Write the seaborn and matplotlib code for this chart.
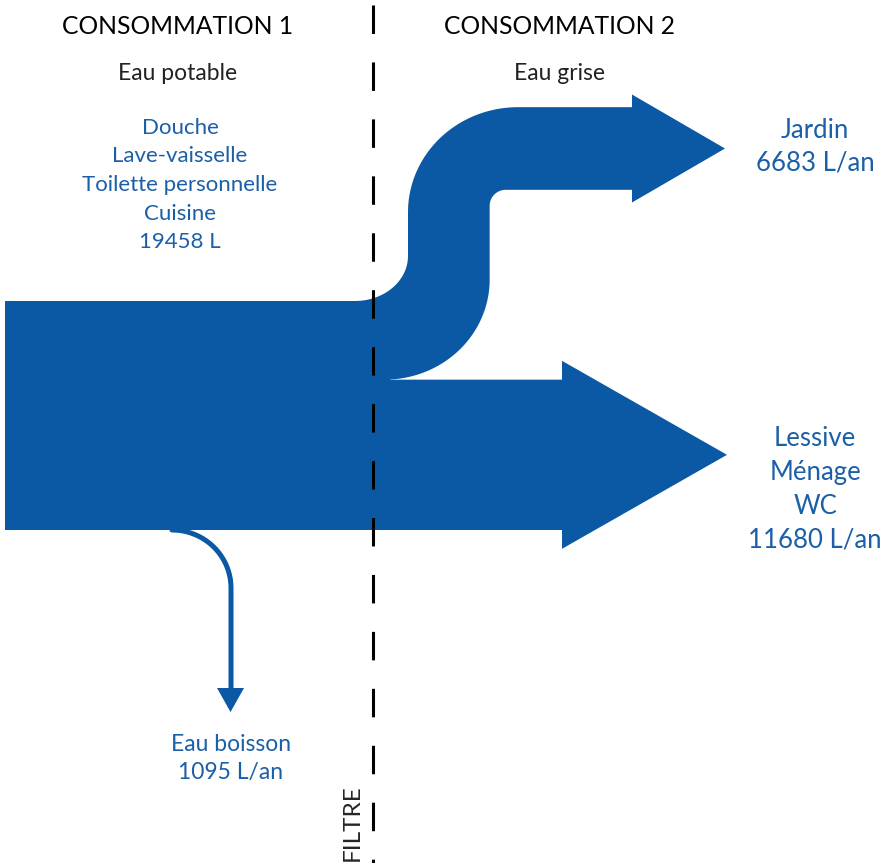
import numpy as np
import matplotlib.pyplot as plt
import seaborn as sns

# volumes d'eau (L/an)
total_potable = 19458
flow_names = ['Jardin', 'Lessive\nMénage\nWC', 'Eau boisson']
flow_values = [6683, 11680, 1095]
usages_potable = ['Douche', 'Lave-vaisselle', 'Toilette personnelle', 'Cuisine']
stage_titles = ['CONSOMMATION 1', 'CONSOMMATION 2']
stage_subtitles = ['Eau potable', 'Eau grise']

blue = '#0b58a4'
text_blue = '#1b5fa8'

sns.set_theme(style='white')
plt.rcParams['font.family'] = ['Lato', 'DejaVu Sans']
plt.rcParams['lines.scale_dashes'] = False

fig = plt.figure(figsize=(8.83, 8.63), dpi=100)
ax = fig.add_axes([0, 0, 1, 1])
ax.set_xlim(0, 883)
ax.set_ylim(863, 0)
ax.axis('off')


def arc(cx, cy, rx, ry, a0, a1, n=50):
    t = np.radians(np.linspace(a0, a1, n))
    return np.column_stack([cx + rx * np.cos(t), cy + ry * np.sin(t)])


px = 229 / total_potable  # pixels par litre
top = 301
w_jardin = flow_values[0] * px
y_split = top + w_jardin
bottom = top + total_potable * px

# bloc eau potable
ax.fill([5, 390, 390, 5], [top, top, bottom, bottom], color=blue, lw=0)

# flux jardin (courbe vers le haut)
yc = 148.5
ytop, ybot = yc - (w_jardin + 4) / 2, yc + (w_jardin + 4) / 2
xl = 408
xr = xl + w_jardin + 3
outer = np.vstack([
    arc(355, top - 45, 53, 45, 90, 0),
    arc(xl + 110, ytop + 105, 110, 105, 180, 270),
    [[632, ytop], [632, yc - 54], [725, yc], [632, yc + 54], [632, ybot]],
])
inner = np.vstack([
    arc(xr + 16, ybot + 16, 16, 16, 270, 180),
    arc(xr - 105, y_split - 100, 105, 100, 0, 90),
    [[350, y_split]],
])
path = np.vstack([outer, inner])
ax.fill(path[:, 0], path[:, 1], color=blue, lw=0)

# flux lessive / ménage / WC
ymid = (y_split + bottom) / 2
ax.fill([385, 562, 562, 727, 562, 562, 385],
        [y_split, y_split, ymid - 94, ymid, ymid + 94, bottom, bottom],
        color=blue, lw=0)

# eau boisson
curve = np.vstack([arc(172, bottom + 58, 59, 58, 270, 360), [[231, 690]]])
sns.lineplot(x=curve[:, 0], y=curve[:, 1], sort=False, estimator=None,
             color=blue, lw=3.6, ax=ax)
ax.fill([217, 244, 230.5], [688, 688, 712], color=blue, lw=0)

# filtre
ax.plot([373, 373], [5, 863], color='black', lw=2.2, dashes=(20.5, 20.5), zorder=5)
ax.text(352, 823, 'FILTRE', rotation=90, ha='center', va='center', fontsize=17.5)

# textes
for x, t, s in zip([178, 560], stage_titles, stage_subtitles):
    ax.text(x, 27, t, ha='center', va='center', fontsize=17.7, color='black')
    ax.text(x, 73, s, ha='center', va='center', fontsize=16.5, color='#222222')

for i, u in enumerate(usages_potable + [f'{total_potable} L']):
    ax.text(180, 128 + i * 28.5, u, ha='center', va='center', fontsize=16, color=text_blue)

ax.text(815, 130, flow_names[0], ha='center', va='center', fontsize=18.5, color=text_blue)
ax.text(815, 163, f'{flow_values[0]} L/an', ha='center', va='center', fontsize=18.5, color=text_blue)
for i, l in enumerate(flow_names[1].split('\n') + [f'{flow_values[1]} L/an']):
    ax.text(815, 438 + i * 34, l, ha='center', va='center', fontsize=18.5, color=text_blue)
ax.text(231, 744, flow_names[2], ha='center', va='center', fontsize=16.5, color=text_blue)
ax.text(231, 772, f'{flow_values[2]} L/an', ha='center', va='center', fontsize=16.5, color=text_blue)

fig.savefig('out.png', dpi=100)
